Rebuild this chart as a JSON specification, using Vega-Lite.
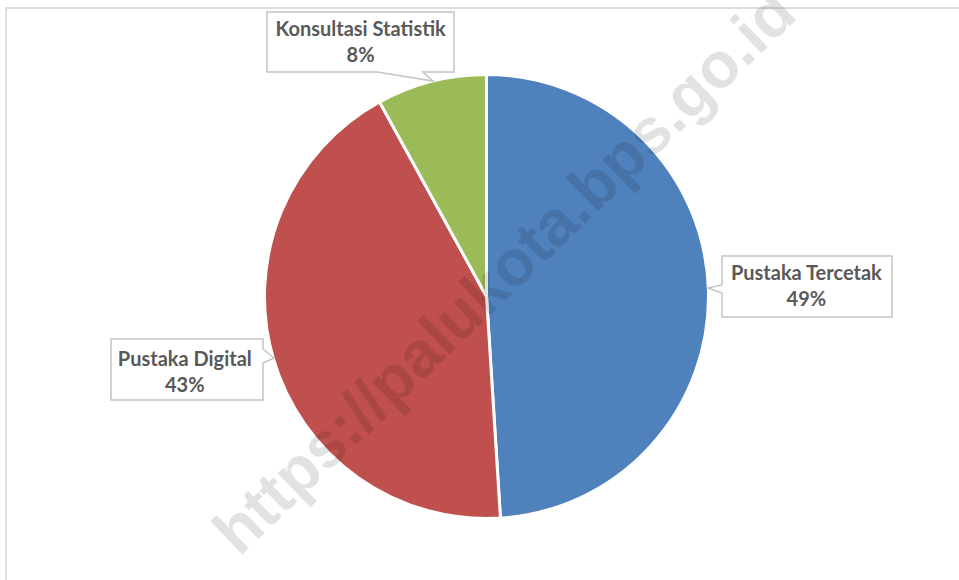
{
  "$schema": "https://vega.github.io/schema/vega-lite/v6.json",
  "width": 961,
  "height": 577,
  "autosize": {"type": "none"},
  "padding": {"left": 6, "top": 8, "right": -8, "bottom": -5},
  "background": "white",
  "config": {"view": {"stroke": null}},
  "data": {
    "values": [
      {"kategori": "Pustaka Tercetak", "persen": 49, "urutan": 1, "label": "Pustaka Tercetak\n49%"},
      {"kategori": "Pustaka Digital", "persen": 43, "urutan": 2, "label": "Pustaka Digital\n43%"},
      {"kategori": "Konsultasi Statistik", "persen": 8, "urutan": 3, "label": "Konsultasi Statistik\n8%"}
    ]
  },
  "layer": [
    {
      "data": {"values": [{"bingkai": 1}]},
      "mark": {"type": "rect", "filled": false, "fill": null, "stroke": "#d4d4d4", "strokeWidth": 1.5},
      "encoding": {}
    },
    {
      "mark": {"type": "arc", "outerRadius": 222, "stroke": "white", "strokeWidth": 3},
      "encoding": {
        "theta": {"field": "persen", "type": "quantitative", "stack": true},
        "order": {"field": "urutan", "type": "quantitative"},
        "color": {
          "field": "kategori",
          "type": "nominal",
          "scale": {
            "domain": ["Pustaka Tercetak", "Pustaka Digital", "Konsultasi Statistik"],
            "range": ["#4F81BD", "#C0504D", "#9BBB59"]
          },
          "legend": null
        }
      }
    },
    {
      "mark": {"type": "point", "filled": true, "fill": "white", "stroke": "#c4c4c4", "strokeWidth": 1.5, "size": 4, "opacity": 1},
      "encoding": {
        "shape": {
          "field": "kategori",
          "type": "nominal",
          "scale": {
            "domain": ["Pustaka Tercetak", "Pustaka Digital", "Konsultasi Statistik"],
            "range": [
              "M235.5,-40.5H405.5V20.5H235.5V-3.5L221.5,-8.5L235.5,-11.5Z",
              "M-375.5,42.5H-223.5V52.5L-212.5,61.5L-223.5,66.5V103.5H-375.5Z",
              "M-219.5,-284.5H-32.5V-224.5H-63.5L-53.5,-215.5L-109.5,-224.5H-219.5Z"
            ]
          },
          "legend": null
        }
      }
    },
    {
      "mark": {"type": "text", "radius": 320, "dy": -12, "font": "Lato", "fontSize": 20, "fontWeight": "bold", "fill": "#595959", "lineBreak": "\n", "lineHeight": 26, "align": "center", "baseline": "middle"},
      "encoding": {
        "theta": {"field": "persen", "type": "quantitative", "stack": true},
        "order": {"field": "urutan", "type": "quantitative"},
        "text": {"condition": {"test": "datum.kategori === 'Pustaka Tercetak'", "field": "label"}, "value": ""}
      }
    },
    {
      "mark": {"type": "text", "radius": 310, "dx": -4, "dy": -23, "font": "Lato", "fontSize": 20, "fontWeight": "bold", "fill": "#595959", "lineBreak": "\n", "lineHeight": 26, "align": "center", "baseline": "middle"},
      "encoding": {
        "theta": {"field": "persen", "type": "quantitative", "stack": true},
        "order": {"field": "urutan", "type": "quantitative"},
        "text": {"condition": {"test": "datum.kategori === 'Pustaka Digital'", "field": "label"}, "value": ""}
      }
    },
    {
      "mark": {"type": "text", "radius": 265, "dx": -60, "dy": -10, "font": "Lato", "fontSize": 20, "fontWeight": "bold", "fill": "#595959", "lineBreak": "\n", "lineHeight": 26, "align": "center", "baseline": "middle"},
      "encoding": {
        "theta": {"field": "persen", "type": "quantitative", "stack": true},
        "order": {"field": "urutan", "type": "quantitative"},
        "text": {"condition": {"test": "datum.kategori === 'Konsultasi Statistik'", "field": "label"}, "value": ""}
      }
    },
    {
      "data": {"values": [{"wm": "https://palukota.bps.go.id"}]},
      "mark": {"type": "text", "angle": 316, "dx": 30, "dy": -3, "font": "Liberation Sans", "fontSize": 64, "fontWeight": "bold", "fill": "#000000", "opacity": 0.11, "align": "center", "baseline": "middle"},
      "encoding": {"text": {"field": "wm", "type": "nominal"}}
    }
  ]
}
